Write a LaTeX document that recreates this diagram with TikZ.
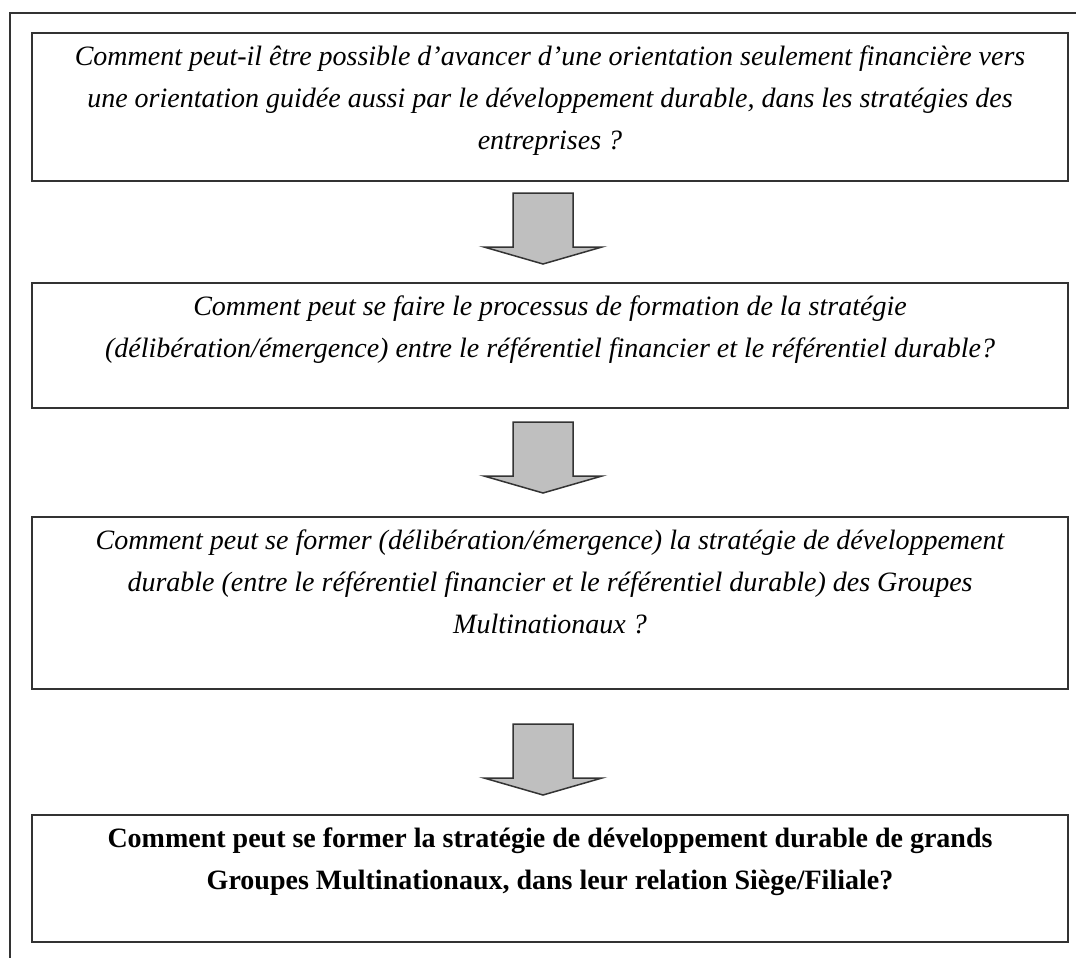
\documentclass[tikz,border=0pt]{standalone}
\usepackage{fontspec}
\setmainfont{Liberation Serif}
\usepackage{tikz}
\usepackage{xcolor}
\usetikzlibrary{positioning,calc}
\definecolor{frameline}{HTML}{333333}

\begin{document}
\begin{tikzpicture}[
  x=0.5pt, y=-0.5pt,
  qbox/.style={rectangle, draw=frameline, line width=1pt, minimum width=518pt, inner sep=0pt},
  qtext/.style={inner sep=0pt, align=center, anchor=north, yshift=-2pt, font=\fontsize{14}{21}\selectfont\itshape},
  qbold/.style={qtext, font=\fontsize{14}{21}\selectfont\bfseries},
  blockarrow/.style={draw=frameline, line width=0.75pt, fill=gray!50, line join=miter},
]
\useasboundingbox (0,0) rectangle (1076,958);
% Outer frame (top and left edges only)
\draw[frameline, line width=1pt] (1076,13) -| (10,958);

% Question boxes
\node[qbox, minimum height=74pt] (q1) at (550,107) {};
\node[qbox, minimum height=62.5pt] (q2) at (550,345.5) {};
\node[qbox, minimum height=86pt] (q3) at (550,603) {};
\node[qbox, minimum height=63.5pt] (q4) at (550,878.5) {};

% Texts
\node[qtext] (t1) at (q1.north) {\strut Comment peut-il être possible d’avancer d’une orientation seulement financière vers\\
  une orientation guidée aussi par le développement durable, dans les stratégies des\\
  entreprises ?};
\node[qtext] (t2) at (q2.north) {\strut Comment peut se faire le processus de formation de la stratégie\\
  (délibération/émergence) entre le référentiel financier et le référentiel durable?};
\node[qtext] (t3) at (q3.north) {\strut Comment peut se former (délibération/émergence) la stratégie de développement\\
  durable (entre le référentiel financier et le référentiel durable) des Groupes\\
  Multinationaux ?};
\node[qbold] (t4) at (q4.north) {\strut Comment peut se former la stratégie de développement durable de grands\\
  Groupes Multinationaux, dans leur relation Siège/Filiale?};

% Block arrows
\foreach \q/\d in {q1/11, q2/13, q3/34}
  \draw[blockarrow] ($(\q.south)+(-7,\d)$) -- ++(30,0) -- ++(0,54) -- ++(29,0)
    -- ++(-59,17) -- ++(-59,-17) -- ++(29,0) -- ++(0,-54) -- cycle;
\end{tikzpicture}
\end{document}
